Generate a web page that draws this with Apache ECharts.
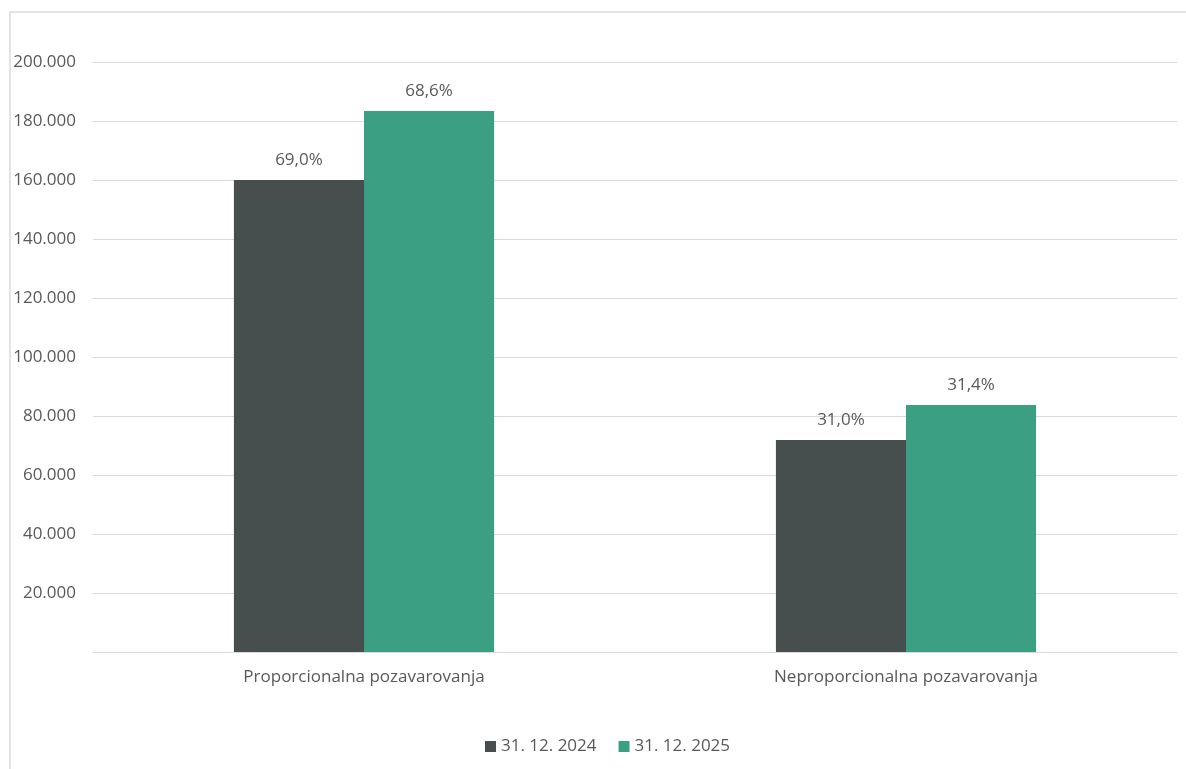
<!DOCTYPE html>
<html>
<head>
<meta charset="utf-8">
<script src="https://cdn.jsdelivr.net/npm/echarts@6/dist/echarts.min.js"></script>
<style>
  html, body { margin: 0; padding: 0; background: #fff; }
  #frame { position: absolute; left: 9px; top: 11px; width: 1190px; height: 770px;
           border: 2px solid #e3e3e3; box-sizing: border-box; }
  #chart { position: absolute; left: 0; top: 0; width: 1186px; height: 769px; }
</style>
</head>
<body>
<div id="frame"></div>
<div id="chart"></div>
<script>
// Reinsurance by type: amounts and share of total per date
const categories = ['Proporcionalna pozavarovanja', 'Neproporcionalna pozavarovanja'];
const seriesNames = ['31. 12. 2024', '31. 12. 2025'];
const values2024 = [160000, 71900];
const values2025 = [183400, 83700];
const shares2024 = ['69,0%', '31,0%'];
const shares2025 = ['68,6%', '31,4%'];
const yTicks = { min: 0, max: 200000, interval: 20000 };

const textColor = '#595959';
const fontFamily = '"Open Sans", sans-serif';
const fontSize = 17;

function fmt(v) {
  if (v === 0) return '';
  return String(v).replace(/\B(?=(\d{3})+(?!\d))/g, '.');
}

const chart = echarts.init(document.getElementById('chart'), null, { renderer: 'canvas' });
chart.setOption({
  animation: false,
  textStyle: { fontFamily: fontFamily, color: textColor },
  grid: { left: 93, right: 9, top: 62, bottom: 117, containLabel: false },
  legend: {
    bottom: 9,
    left: 480,
    itemWidth: 11, itemHeight: 11, itemGap: 22, padding: 5,
    icon: 'rect',
    textStyle: { color: textColor, fontSize: fontSize, fontFamily: fontFamily, padding: [0, 0, 0, 0] },
    data: seriesNames
  },
  xAxis: {
    type: 'category',
    data: categories,
    axisTick: { show: false },
    axisLine: { lineStyle: { color: '#d9d9d9', width: 1 } },
    axisLabel: { color: textColor, fontSize: fontSize, margin: 17 }
  },
  yAxis: {
    type: 'value',
    min: yTicks.min, max: yTicks.max, interval: yTicks.interval,
    axisLine: { show: false },
    axisTick: { show: false },
    splitLine: { lineStyle: { color: '#d9d9d9', width: 1 } },
    axisLabel: { color: textColor, fontSize: fontSize, margin: 17, formatter: fmt }
  },
  series: [
    {
      name: seriesNames[0], type: 'bar', data: values2024,
      barGap: '0%', barCategoryGap: '52%',
      itemStyle: { color: '#474e4e' },
      label: { show: true, position: 'top', distance: 11, color: textColor, fontSize: fontSize,
               formatter: p => shares2024[p.dataIndex] }
    },
    {
      name: seriesNames[1], type: 'bar', data: values2025,
      barGap: '0%', barCategoryGap: '52%',
      itemStyle: { color: '#3ba083' },
      label: { show: true, position: 'top', distance: 11, color: textColor, fontSize: fontSize,
               formatter: p => shares2025[p.dataIndex] }
    }
  ]
});
</script>
</body>
</html>
